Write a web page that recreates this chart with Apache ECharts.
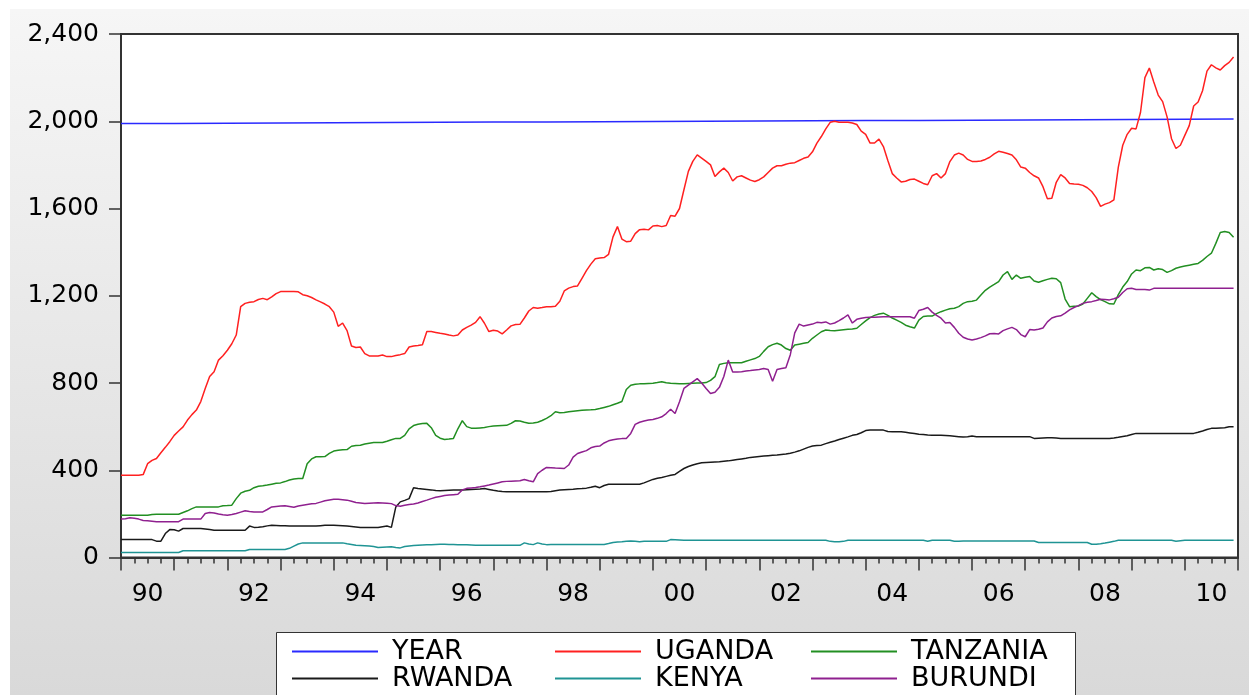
<!DOCTYPE html>
<html>
<head>
<meta charset="utf-8">
<script src="https://cdn.jsdelivr.net/npm/echarts@6/dist/echarts.min.js"></script>
<style>
html,body{margin:0;padding:0;background:#fff;}
#chart{width:1249px;height:695px;}
</style>
</head>
<body>
<div id="chart"></div>
<script>
// ---- DATA (monthly, Jan 1990 .. Dec 2010; index = month number from Jan 1990) ----
const yearLabels = ['90','','92','','94','','96','','98','','00','','02','','04','','06','','08','','10'];
const yearStartMonth = [0,12,24,36,48,60,72,84,96,108,120,132,144,156,168,180,192,204,216,228,240,251];
const yearValues = [1990,1991,1992,1993,1994,1995,1996,1997,1998,1999,2000,2001,2002,2003,2004,2005,2006,2007,2008,2009,2010,2010];

const uganda = [
377,377,377,377,377,380,430,445,454,480,505,531,
560,580,599,630,655,676,715,775,830,852,905,925,
950,980,1020,1150,1165,1170,1173,1183,1188,1182,1195,1210,
1219,1220,1220,1220,1218,1205,1200,1192,1181,1172,1162,1150,
1125,1060,1075,1040,970,963,965,935,924,924,924,928,
921,921,926,930,935,965,970,972,975,1036,1036,1032,
1028,1025,1020,1016,1020,1043,1055,1065,1078,1104,1074,1036,
1042,1038,1025,1043,1062,1068,1069,1098,1130,1146,1143,1146,
1150,1150,1152,1175,1222,1235,1242,1245,1280,1315,1345,1370,
1373,1375,1390,1470,1517,1460,1448,1450,1485,1503,1505,1502,
1520,1522,1517,1522,1568,1565,1600,1686,1770,1816,1846,1831,
1816,1800,1747,1768,1785,1765,1726,1745,1750,1740,1730,1724,
1732,1745,1765,1785,1796,1796,1803,1808,1810,1820,1830,1836,
1860,1900,1930,1965,1995,2000,1995,1995,1995,1992,1985,1955,
1940,1900,1900,1918,1884,1820,1760,1740,1722,1725,1733,1735,
1725,1715,1709,1750,1760,1740,1760,1815,1845,1854,1845,1825,
1816,1816,1818,1825,1835,1850,1862,1858,1852,1845,1823,1790,
1785,1765,1750,1740,1700,1645,1647,1720,1755,1740,1715,1712,
1711,1706,1695,1678,1650,1610,1620,1627,1640,1790,1890,1940,
1968,1965,2040,2200,2244,2180,2120,2090,2020,1920,1875,1890,
1935,1980,2070,2088,2140,2230,2259,2245,2235,2255,2270,2295
];

const tanzania = [
194,194,194,194,194,194,194,197,198,198,198,198,
198,198,206,214,224,232,232,232,232,232,232,237,
238,240,270,295,304,308,320,327,329,332,336,340,
342,348,355,360,362,362,430,452,462,462,463,477,
488,492,494,495,510,513,515,520,524,527,527,527,
533,540,546,546,560,590,605,611,614,615,595,560,
547,541,543,546,590,627,600,593,592,594,596,600,
603,604,605,606,615,627,626,620,615,617,620,628,
638,650,668,664,665,668,671,673,675,676,677,679,
683,688,693,700,707,715,770,790,794,796,797,798,
799,802,806,801,799,798,797,797,798,799,800,800,
802,812,829,885,890,893,893,893,893,900,906,912,
922,945,966,976,982,974,958,950,974,978,982,986,
1005,1020,1035,1043,1041,1040,1042,1044,1046,1048,1051,1068,
1085,1100,1110,1116,1120,1110,1098,1088,1078,1065,1058,1052,
1088,1105,1107,1107,1118,1127,1134,1140,1143,1150,1165,1173,
1175,1180,1203,1225,1240,1252,1265,1295,1311,1275,1295,1280,
1285,1288,1268,1262,1269,1275,1280,1278,1260,1185,1150,1152,
1153,1162,1188,1214,1196,1182,1173,1163,1162,1205,1240,1265,
1300,1318,1315,1328,1330,1318,1324,1320,1307,1315,1326,1332,
1336,1340,1344,1348,1362,1380,1395,1440,1490,1495,1490,1468
];

const rwanda = [
82,82,82,82,82,82,82,82,75,75,110,128,
127,121,133,133,133,133,133,131,128,125,125,125,
125,125,125,125,125,144,138,139,141,145,148,147,
146,145,144,144,144,144,144,144,144,146,148,148,
148,147,146,144,142,140,138,138,138,138,138,141,
144,138,232,255,262,270,320,316,314,312,310,307,
306,307,308,309,309,310,311,312,313,314,316,312,
308,305,303,302,301,301,301,301,301,301,301,301,
301,303,306,309,311,312,313,315,316,318,322,327,
320,330,336,336,336,336,336,336,336,336,342,350,
358,363,367,372,377,381,395,408,417,424,430,434,
436,437,438,439,441,443,446,449,452,455,459,461,
463,465,467,469,470,472,474,478,483,489,497,505,
511,513,515,522,528,534,541,547,553,560,564,572,
582,584,584,584,584,578,577,577,577,574,571,568,
565,564,562,561,560,560,559,558,556,554,552,554,
557,554,554,554,554,554,554,554,554,554,554,554,
554,554,546,547,548,549,549,548,546,546,546,546,
546,546,546,546,546,546,546,546,548,551,555,558,
564,569,569,569,569,569,569,569,569,569,569,569,
569,569,569,574,580,587,592,593,594,595,599,599
];

const kenya = [
23,23,23,23,23,23,23,23,23,23,23,23,
23,23,31,31,31,31,31,31,31,31,31,31,
31,31,31,31,31,37,37,37,37,37,37,37,
37,37,42,52,62,67,67,67,67,67,67,67,
67,67,67,63,60,56,55,54,53,50,46,47,
48,49,46,44,50,53,55,56,57,58,59,60,
61,61,60,60,59,58,58,57,56,56,56,56,
56,56,56,56,56,56,56,67,62,59,67,62,
59,60,60,60,60,60,60,60,60,60,60,60,
60,60,64,69,71,72,74,76,74,72,74,74,
74,74,74,74,82,81,80,79,79,79,79,79,
79,79,79,79,79,79,79,79,79,79,79,79,
79,79,79,79,79,79,79,79,79,79,79,79,
79,79,79,79,74,72,72,74,79,79,79,79,
79,79,79,79,79,79,79,79,79,79,79,79,
79,79,75,79,79,79,79,79,75,75,76,76,
76,76,76,76,76,76,76,76,76,76,76,76,
76,76,76,69,69,69,69,69,69,69,69,69,
69,69,69,61,61,63,66,70,74,79,79,79,
79,79,79,79,79,79,79,79,79,79,75,77,
79,79,79,79,79,79,79,79,79,79,79,79
];

const burundi = [
176,178,182,180,176,170,168,166,164,164,164,164,
164,164,176,176,176,176,176,202,206,204,199,196,
194,197,202,208,214,211,209,209,209,220,232,234,
236,237,234,230,236,240,243,246,248,254,260,264,
267,267,265,263,258,252,250,248,249,250,251,250,
249,247,238,235,240,243,245,250,257,263,270,276,
280,284,286,288,290,310,317,319,321,324,328,332,
337,342,347,349,350,351,352,358,352,347,385,400,
413,412,410,409,408,424,460,477,484,490,503,509,
511,525,535,540,543,545,546,569,610,620,626,630,
633,638,645,660,680,660,714,775,790,805,820,800,
775,752,758,780,830,905,850,850,852,855,857,860,
862,866,862,808,862,866,870,930,1030,1070,1061,1066,
1070,1078,1076,1080,1070,1075,1086,1098,1112,1075,1092,1097,
1100,1101,1102,1103,1104,1104,1104,1104,1104,1104,1104,1097,
1132,1138,1146,1125,1110,1097,1075,1077,1055,1028,1010,1002,
997,1002,1008,1016,1026,1027,1025,1040,1048,1055,1045,1022,
1012,1045,1043,1046,1052,1080,1098,1105,1108,1120,1135,1146,
1155,1165,1170,1173,1178,1184,1183,1181,1186,1193,1215,1232,
1234,1229,1229,1229,1226,1234,1234,1234,1234,1234,1234,1234,
1234,1234,1234,1234,1234,1234,1234,1234,1234,1234,1234,1234
];

// ---- CHART ----
const FONT = 'DejaVu Sans';
const colors = {
  YEAR: '#2a2aff', UGANDA: '#ff2020', TANZANIA: '#228f22',
  RWANDA: '#1a1a1a', KENYA: '#1f9494', BURUNDI: '#8f208f'
};
const toPairs = arr => arr.map((v, i) => [i, v]);
const yearData = yearValues.map((v, k) => [yearStartMonth[k], v]);

function lineSeries(name, data, extra) {
  return Object.assign({
    name: name, type: 'line', data: data, xAxisIndex: 0, yAxisIndex: 0,
    symbol: 'none', showSymbol: false, color: colors[name],
    lineStyle: { color: colors[name], width: 1.5 },
    itemStyle: { color: colors[name] }, animation: false, silent: true
  }, extra || {});
}

const legendCommon = {
  orient: 'vertical', icon: 'rect', itemWidth: 86, itemHeight: 2, itemGap: 0,
  padding: 0, selectedMode: false, top: 638,
  textStyle: { fontFamily: FONT, fontSize: 27, color: '#000', lineHeight: 27, padding: [0, 0, 0, 9] }
};

const chart = echarts.init(document.getElementById('chart'), null, { renderer: 'canvas' });
chart.setOption({
  animation: false,
  backgroundColor: '#ffffff',
  graphic: [
    { type: 'rect', z: -100, left: 10, top: 9, shape: { width: 1239, height: 686 },
      style: { fill: new echarts.graphic.LinearGradient(0, 0, 0, 1, [
        { offset: 0, color: '#f6f6f6' }, { offset: 1, color: '#d9d9d9' }]) } },
    { type: 'rect', z: 3, left: 276, top: 632, shape: { width: 799, height: 80 },
      style: { fill: '#ffffff', stroke: '#333333', lineWidth: 1 } }
  ],
  grid: { left: 121, right: 11, top: 34, bottom: 137.5, show: true,
          backgroundColor: '#ffffff', borderColor: '#333333', borderWidth: 2 },
  xAxis: [
    { type: 'value', min: 0, max: 252, interval: 12, position: 'bottom',
      axisLine: { show: true, lineStyle: { color: '#333', width: 2 } },
      axisTick: { show: true, length: 13, lineStyle: { color: '#333', width: 1.5 } },
      minorTick: { show: true, splitNumber: 4, length: 6, lineStyle: { color: '#333', width: 1.5 } },
      axisLabel: { show: false }, splitLine: { show: false }, minorSplitLine: { show: false } },
    { type: 'category', data: yearLabels, boundaryGap: true, position: 'bottom',
      axisLine: { show: false }, axisTick: { show: false }, splitLine: { show: false },
      axisLabel: { interval: 0, margin: 24, fontFamily: FONT, fontSize: 25, color: '#000' } }
  ],
  yAxis: {
    type: 'value', min: 0, max: 2400, interval: 400,
    axisLine: { show: true, lineStyle: { color: '#333', width: 2 } },
    axisTick: { show: true, length: 12, lineStyle: { color: '#333', width: 1.5 } },
    splitLine: { show: false },
    axisLabel: { margin: 22, fontFamily: FONT, fontSize: 25, color: '#000',
      formatter: v => v.toLocaleString('en-US') }
  },
  legend: [
    Object.assign({}, legendCommon, { left: 292, data: ['YEAR', 'RWANDA'] }),
    Object.assign({}, legendCommon, { left: 555, data: ['UGANDA', 'KENYA'] }),
    Object.assign({}, legendCommon, { left: 811, data: ['TANZANIA', 'BURUNDI'] })
  ],
  series: [
    lineSeries('YEAR', yearData, { step: 'end' }),
    lineSeries('UGANDA', toPairs(uganda)),
    lineSeries('TANZANIA', toPairs(tanzania)),
    lineSeries('RWANDA', toPairs(rwanda)),
    lineSeries('KENYA', toPairs(kenya)),
    lineSeries('BURUNDI', toPairs(burundi))
  ]
});
</script>
</body>
</html>
